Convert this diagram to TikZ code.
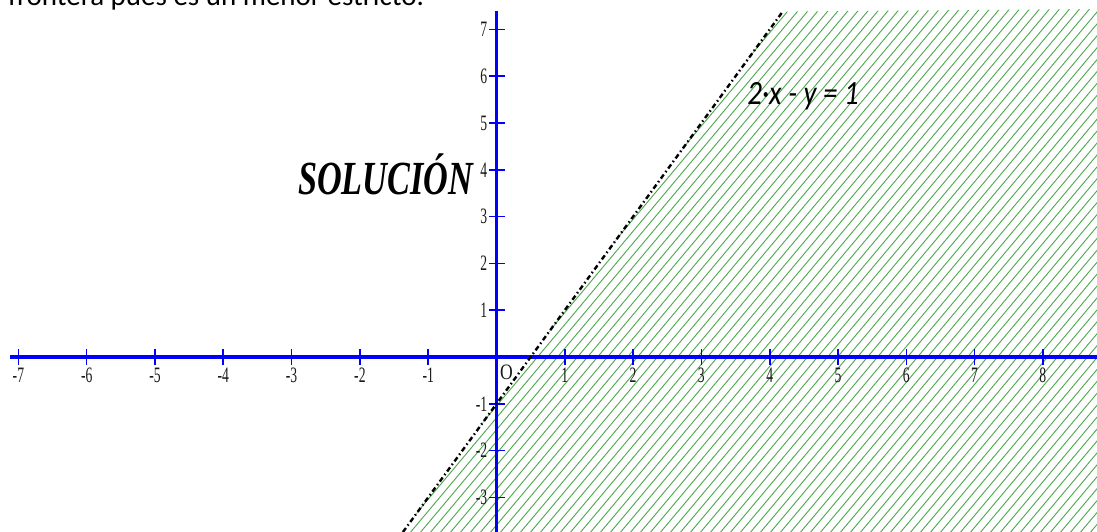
\documentclass[tikz,border=0pt]{standalone}
\usepackage{fontspec}
\usepackage{graphicx}
\usepackage{tikz}
\setmainfont{Liberation Serif}
\newfontfamily\calibri{Carlito}
\definecolor{axisblue}{HTML}{0000FF}
\definecolor{hatchgreen}{HTML}{4DA84D}
\definecolor{labelink}{HTML}{1A1A1A}
\newcommand{\squeeze}[3]{\scalebox{#1}[#2]{#3}}
\tikzset{axis/.style={draw=axisblue,line width=3.2pt},
  tick/.style={draw=axisblue,line width=1.6pt},
  numlab/.style={inner sep=0pt,text=labelink,font=\fontsize{22}{22}\selectfont},
  hatch/.style={draw=hatchgreen,line width=0.9pt},
  border/.style={draw=black,line width=2.4pt,dash pattern=on 5pt off 3pt on 1.5pt off 3pt},
  eqlab/.style={inner sep=0pt,font=\calibri\itshape\fontsize{34}{34}\selectfont},
  sollab/.style={inner sep=0pt,font=\bfseries\itshape\fontsize{38}{38}\selectfont},
  notelab/.style={inner sep=0pt,font=\calibri\fontsize{29}{29}\selectfont}}

\begin{document}
\begin{tikzpicture}[x=68.3pt,y=46.8pt]
\useasboundingbox (-496.5pt,-175pt) rectangle (600.5pt,357pt);
\fill[white] (-496.5pt,-175pt) rectangle (600.5pt,357pt);
\clip (-496.5pt,-175pt) rectangle (600.5pt,357pt);
% end points of the border line 2x-y=1
\coordinate (lo) at (-1.37,-3.74);
\coordinate (hi) at (4.19,7.38);
% hatched half-plane
\begin{scope}
\clip (lo) -- (hi) -- (600.5pt,348pt) -- (600.5pt,-175pt) -- cycle;
\foreach \s in {-170,-160,...,610}
  \draw[hatch] (\s pt,-180pt) -- ++(50:720pt);
\end{scope}
% axes
\draw[axis] (-486.5pt,0pt) -- (600.5pt,0pt);
\draw[axis] (0pt,346pt) -- (0pt,-175pt);
\foreach \i in {-7,...,-1,1,2,...,8}{
  \draw[tick] (\i,0) ++(0pt,-8pt) -- ++(0pt,16pt);
  \path (\i,0) ++(0pt,-26pt) node[numlab,anchor=base] (xl\i) {\squeeze{.62}{1}{\i}};
}
\foreach \j in {-3,-2,-1,1,2,...,7}{
  \draw[tick] (0,\j) ++(-8pt,0pt) -- ++(16pt,0pt);
  \path (0,\j) ++(-9pt,0pt) node[numlab,anchor=east] (yl\j) {\squeeze{.62}{1}{\j}};
}
\node[numlab] (orig) at (10pt,-15pt) {\squeeze{.8}{1}{O}};
% border line
\draw[border] (lo) -- (hi);
% texts
\node[eqlab,anchor=base] (eq) at (306.5pt,252pt) {\squeeze{.85}{1}{2·x - y = 1}};
\node[sollab,anchor=base] (sol) at (-111pt,162pt) {\squeeze{.9}{1.25}{SOLUCIÓN}};
\node[notelab,anchor=base west] (note) at (-488.5pt,351pt) {frontera pues es un menor estricto.};
\end{tikzpicture}
\end{document}
